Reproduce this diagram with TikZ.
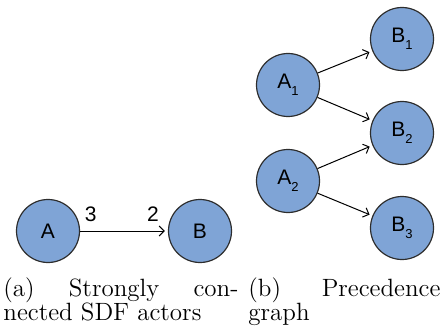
\documentclass[tikz,border=0pt]{standalone}
\usepackage{fontspec}
\newfontfamily\labelfont{Liberation Sans}
\usepackage{tikz}
\usetikzlibrary{arrows.meta,positioning}

\definecolor{actorfill}{RGB}{127,164,214}
\definecolor{actorline}{RGB}{45,45,45}

\newcommand{\sub}[1]{{\fontsize{6.5pt}{7pt}\selectfont\raisebox{-3.5pt}{#1}}}

\tikzset{
  actor/.style={circle, draw=actorline, fill=actorfill, line width=0.6pt,
    minimum size=31.5pt, inner sep=0pt,
    font=\labelfont\fontsize{10.5pt}{12pt}\selectfont},
  rate/.style={inner sep=0pt, font=\labelfont\fontsize{10.5pt}{12pt}\selectfont},
  capline/.style={anchor=base west, inner sep=0pt, font=\fontsize{12.5pt}{15pt}\selectfont}
}

\begin{document}
\begin{tikzpicture}[x=0.5pt,y=-0.5pt,node distance=2cm,on grid,
    >={Straight Barb[length=2.5pt,width=5pt]}, shorten >=1.5pt]
		\useasboundingbox (0,0) rectangle (444,326);

		% left
		\node[actor] (a) at (48,231) {A};
		\node[actor, right = 76pt of a] (b) {B};

		% right
		\node[actor] (a1) at (288,85) {A\sub{1}};
		\node[actor, below = 48pt of a1] (a2) {A\sub{2}};
		\node[actor, above right = 23pt and 57pt of a1] (b1) {B\sub{1}};
		\node[actor, below = 47pt of b1] (b2) {B\sub{2}};
		\node[actor, below = 47.5pt of b2] (b3) {B\sub{3}};

		% left
		\draw[->, line width=0.5pt] (a) -- node[rate, pos=0.12, above=4.5pt] (r3) {3}
		  node[rate, pos=0.83, above=4.5pt] (r2) {2} (b);

		% right
		\path[->, line width=0.5pt] (a1) edge (b1)
		(a1) edge (b2)
		(a2) edge (b2)
		(a2) edge (b3);

		% captions
		\node[capline] (capa1) at (3,296) {\makebox[117.5pt][s]{(a) Strongly con-}};
		\node[capline] (capa2) at (3,320.5) {nected SDF actors};
		\node[capline] (capb1) at (248,296) {\makebox[96pt][s]{(b) Precedence}};
		\node[capline] (capb2) at (248,320.5) {graph};
\end{tikzpicture}
\end{document}
